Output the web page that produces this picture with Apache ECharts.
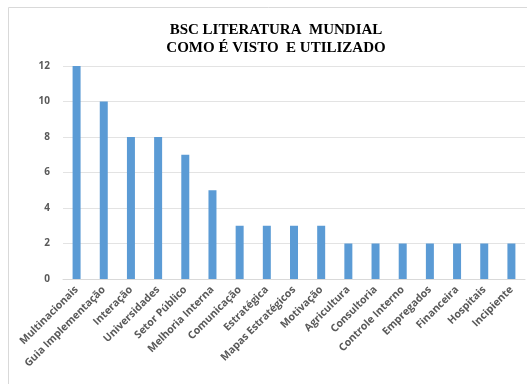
<!DOCTYPE html>
<html>
<head>
<meta charset="utf-8">
<script src="https://cdn.jsdelivr.net/npm/echarts@6/dist/echarts.min.js"></script>
<style>
    html, body { margin: 0; padding: 0; background: #fff; }
    #chart { width: 527px; height: 384px; }
</style>
</head>
<body>
<div id="chart"></div>
<script>
    // categorias e valores
    var categorias = ['Multinacionais', 'Guia Implementação', 'Interação', 'Universidades', 'Setor Público',
        'Melhoria Interna', 'Comunicação', 'Estratégica', 'Mapas Estratégicos', 'Motivação', 'Agricultura',
        'Consultoria', 'Controle Interno', 'Empregados', 'Financeira', 'Hospitais', 'Incipiente'];
    var valores = [12, 10, 8, 8, 7, 5, 3, 3, 3, 3, 2, 2, 2, 2, 2, 2, 2];
    var titulo = ['BSC LITERATURA  MUNDIAL', 'COMO É VISTO  E UTILIZADO'];

    var myChart = echarts.init(document.getElementById('chart'));
    myChart.setOption({
        animation: false,
        title: {
            text: titulo.join('\n'),
            left: 271,
            textAlign: 'center',
            top: 16,
            textStyle: {
                fontFamily: '"Times New Roman", "Liberation Serif", serif',
                fontWeight: 'bold',
                fontSize: 15,
                lineHeight: 18,
                color: '#000'
            }
        },
        graphic: [{
            type: 'rect',
            silent: true,
            shape: { x: 8.5, y: 7.5, width: 600, height: 400 },
            style: { fill: 'none', stroke: '#d9d9d9', lineWidth: 1 }
        }],
        grid: { left: 63, right: 2, top: 66, bottom: 105, containLabel: false },
        xAxis: {
            type: 'category',
            data: categorias,
            axisTick: { show: false },
            axisLine: { lineStyle: { color: '#d9d9d9' } },
            axisLabel: {
                interval: 0,
                rotate: 45,
                margin: 9,
                color: '#595959',
                fontFamily: '"Open Sans", sans-serif',
                fontWeight: 'bold',
                fontSize: 10.5
            }
        },
        yAxis: {
            type: 'value',
            min: 0,
            max: 12,
            interval: 2,
            axisLine: { show: false },
            axisTick: { show: false },
            axisLabel: { color: '#595959', fontFamily: '"Open Sans", sans-serif', fontWeight: 'bold', fontSize: 10, margin: 13 },
            splitLine: { lineStyle: { color: '#e3e3e3' } }
        },
        series: [{
            type: 'bar',
            data: valores,
            barWidth: 8,
            itemStyle: { color: '#5b9bd5' }
        }]
    });
</script>
</body>
</html>
